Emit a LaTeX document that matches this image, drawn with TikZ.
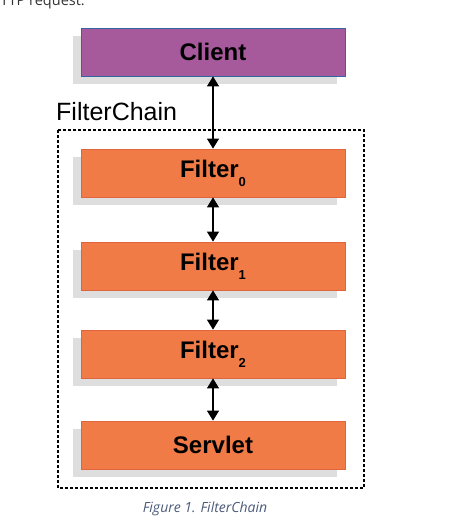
\documentclass[tikz,border=0pt]{standalone}
\usepackage{fontspec}
\setmainfont{Liberation Sans}
\newfontfamily\opensans{Open Sans}
\usetikzlibrary{arrows.meta}
\definecolor{clientfill}{HTML}{A65A9C}
\definecolor{clientline}{HTML}{3465A4}
\definecolor{filterfill}{HTML}{F17B47}
\definecolor{filterline}{HTML}{E0643C}
\definecolor{shadowgray}{HTML}{DEDEDE}
\definecolor{captioncol}{HTML}{4A5A78}
\definecolor{bodytext}{HTML}{333333}
\tikzset{
  box/.style={draw, line width=0.8pt, minimum width=264pt, minimum height=48pt, inner sep=0pt, font=\fontsize{24}{24}\selectfont\bfseries, text=black},
  clientbox/.style={box, fill=clientfill, draw=clientline},
  filterbox/.style={box, fill=filterfill, draw=filterline},
  shadowbox/.style={fill=shadowgray, draw=none, minimum width=264pt, minimum height=48pt, inner sep=0pt},
  link/.style={line width=1.3pt, {Triangle[width=12pt,length=10pt]}-{Triangle[width=12pt,length=10pt]}},
}
\newcommand{\fsub}[1]{\raisebox{-9pt}{\fontsize{13}{13}\selectfont\bfseries #1}}
\begin{document}
\begin{tikzpicture}[x=1pt,y=-1pt]
\useasboundingbox (0,0) rectangle (448,530);
\begin{scope}
\clip (0,0) rectangle (448,530);
\node[anchor=base east, text=bodytext, font=\opensans\fontsize{14.5}{14.5}\selectfont, inner sep=0pt] (top) at (85,5.5) {HTTP request.};
\end{scope}
% shadows
\node[shadowbox] (s0) at (205,60) {};
\node[shadowbox] (s1) at (205,181) {};
\node[shadowbox] (s2) at (205,274) {};
\node[shadowbox] (s3) at (205,362) {};
\node[shadowbox] (s4) at (205,453) {};
% dashed frame
\draw[line width=1.2pt, dash pattern=on 3pt off 2pt] (58,130) rectangle (364,488);
\node[anchor=base west, font=\fontsize{25}{25}\selectfont, inner sep=0pt] (chain) at (56,120) {FilterChain};
% boxes
\node[clientbox] (client) at (213,52) {Client};
\node[filterbox] (f0) at (213,173) {Filter\fsub{0}};
\node[filterbox] (f1) at (213,266) {Filter\fsub{1}};
\node[filterbox] (f2) at (213,354) {Filter\fsub{2}};
\node[filterbox] (servlet) at (213,445) {Servlet};
% links
\draw[link] (client.south) -- (f0.north);
\draw[link] (f0.south) -- (f1.north);
\draw[link] (f1.south) -- (f2.north);
\draw[link] (f2.south) -- (servlet.north);
% caption
\node[anchor=base, text=captioncol, font=\opensans\itshape\fontsize{14}{14}\selectfont, inner sep=0pt] (cap) at (205,512) {Figure 1. FilterChain};
\end{tikzpicture}
\end{document}
